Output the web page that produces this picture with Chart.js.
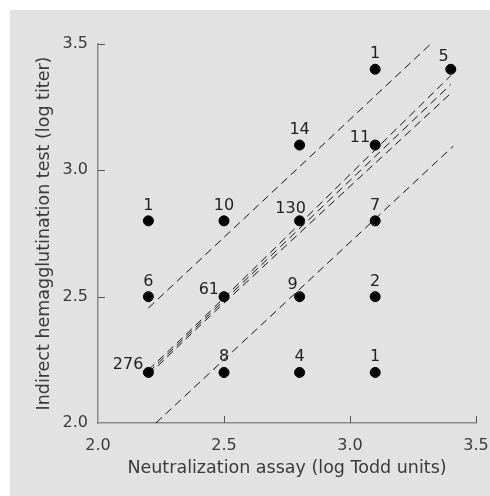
<!DOCTYPE html>
<html>
<head>
<meta charset="utf-8">
<script src="https://cdn.jsdelivr.net/npm/chart.js@4.4.1/dist/chart.umd.min.js"></script>
<style>
  html, body { margin: 0; padding: 0; background: #fff; }
  #wrap { width: 490px; height: 496px; position: relative; }
</style>
</head>
<body>
<div id="wrap"><canvas id="c" width="490" height="496"></canvas></div>
<script>
// observed points: x = neutralization, y = hemagglutination, count label
var pointX = [2.2, 2.5, 2.8, 3.1, 2.2, 2.5, 2.8, 3.1, 2.2, 2.5, 2.8, 3.1, 2.8, 3.1, 3.1, 3.4];
var pointY = [2.8, 2.8, 2.8, 2.8, 2.5, 2.5, 2.5, 2.5, 2.2, 2.2, 2.2, 2.2, 3.1, 3.1, 3.4, 3.4];
var counts = [1, 10, 130, 7, 6, 61, 9, 2, 276, 8, 4, 1, 14, 11, 1, 5];
// where the count sits relative to its dot
var labelSide = ['top', 'top', 'upLeft', 'top', 'top', 'left', 'topLeft', 'top',
                 'left', 'top', 'top', 'top', 'top', 'left', 'top', 'topLeft'];

// regression line and bands
var fitX = [2.2, 3.4];
var fitY = [2.2, 3.34];
var confX = [2.2, 2.45, 3.4];
var confUpperY = [2.21, 2.447, 3.375];
var confLowerY = [2.19, 2.428, 3.305];
var predUpperX = [2.2, 3.32];
var predUpperY = [2.455, 3.5];
var predLowerX = [2.23, 3.41];
var predLowerY = [2.0, 3.096];

var tickValues = [2.0, 2.5, 3.0, 3.5];

function pts(xs, ys) {
    return xs.map(function (x, i) { return { x: x, y: ys[i] }; });
}

var FONT = 'DejaVu Sans';
var TEXT = '#3a3a3a';

function dashed(data) {
    return {
        type: 'line',
        data: data,
        borderColor: '#111',
        borderWidth: 1,
        borderDash: [8, 5],
        pointRadius: 0,
        fill: false,
        tension: 0.4
    };
}

var bgPlugin = {
    id: 'bg',
    beforeDraw: function (chart) {
        var ctx = chart.ctx;
        ctx.save();
        ctx.fillStyle = '#fff';
        ctx.fillRect(0, 0, chart.width, chart.height);
        ctx.fillStyle = '#e2e2e2';
        ctx.fillRect(10, 10, chart.width - 10, chart.height - 10);
        ctx.restore();
    }
};

// inward tick marks
var tickPlugin = {
    id: 'inTicks',
    afterDraw: function (chart) {
        var ctx = chart.ctx;
        var xs = chart.scales.x, ys = chart.scales.y;
        var a = chart.chartArea;
        ctx.save();
        ctx.strokeStyle = '#555';
        ctx.lineWidth = 1;
        tickValues.forEach(function (v) {
            if (v === 2.0) return;
            var px = Math.round(xs.getPixelForValue(v)) + 0.5;
            ctx.beginPath();
            ctx.moveTo(px, a.bottom);
            ctx.lineTo(px, a.bottom - 7);
            ctx.stroke();
            var py = Math.round(ys.getPixelForValue(v)) + 0.5;
            ctx.beginPath();
            ctx.moveTo(a.left, py);
            ctx.lineTo(a.left + 7, py);
            ctx.stroke();
        });
        ctx.restore();
    }
};

var countPlugin = {
    id: 'counts',
    afterDatasetsDraw: function (chart) {
        var ctx = chart.ctx;
        var meta = chart.getDatasetMeta(0);
        ctx.save();
        ctx.font = '16px "' + FONT + '"';
        ctx.fillStyle = '#222';
        ctx.textBaseline = 'alphabetic';
        meta.data.forEach(function (el, i) {
            var side = labelSide[i];
            var tx = el.x, ty = el.y;
            if (side === 'top') { ctx.textAlign = 'center'; ty -= 11; }
            else if (side === 'left') { ctx.textAlign = 'right'; tx -= 5; ty -= 3; }
            else if (side === 'upLeft') { ctx.textAlign = 'center'; tx -= 9; ty -= 8; }
            else { ctx.textAlign = 'right'; tx -= 2; ty -= 8; }
            ctx.fillText(String(counts[i]), tx, ty);
        });
        ctx.restore();
    }
};

new Chart(document.getElementById('c'), {
    type: 'scatter',
    data: {
        datasets: [
            {
                data: pts(pointX, pointY),
                backgroundColor: '#000',
                borderColor: '#000',
                pointRadius: 5,
                pointHoverRadius: 5
            },
            dashed(pts(fitX, fitY)),
            dashed(pts(confX, confUpperY)),
            dashed(pts(confX, confLowerY)),
            dashed(pts(predUpperX, predUpperY)),
            dashed(pts(predLowerX, predLowerY))
        ]
    },
    options: {
        responsive: false,
        animation: false,
        events: [],
        layout: { padding: { top: 44, right: 14, left: 0, bottom: 0 } },
        plugins: { legend: { display: false }, tooltip: { enabled: false } },
        scales: {
            x: {
                type: 'linear',
                min: 2.0, max: 3.5,
                afterFit: function (s) { s.height = 73; s.paddingLeft = 0; s.paddingRight = 0; },
                afterBuildTicks: function (s) { s.ticks = tickValues.map(function (v) { return { value: v }; }); },
                ticks: {
                    padding: 13,
                    color: TEXT,
                    font: { family: FONT, size: 16 },
                    maxRotation: 0,
                    callback: function (v) { return Number(v).toFixed(1); }
                },
                grid: { display: false, drawTicks: false },
                border: { color: '#8a8a8a', width: 1.5 },
                title: {
                    display: true,
                    text: 'Neutralization assay (log Todd units)',
                    color: TEXT,
                    font: { family: FONT, size: 17.5 },
                    padding: { top: 0, bottom: 17 }
                }
            },
            y: {
                type: 'linear',
                min: 2.0, max: 3.5,
                afterFit: function (s) { s.width = 98; s.paddingTop = 0; s.paddingBottom = 0; },
                afterBuildTicks: function (s) { s.ticks = tickValues.map(function (v) { return { value: v }; }); },
                ticks: {
                    padding: 10,
                    color: TEXT,
                    font: { family: FONT, size: 16 },
                    callback: function (v) { return Number(v).toFixed(1); }
                },
                grid: { display: false, drawTicks: false },
                border: { color: '#8a8a8a', width: 1.5 },
                title: {
                    display: true,
                    text: 'Indirect hemagglutination test (log titer)',
                    color: TEXT,
                    font: { family: FONT, size: 17.5 },
                    padding: { top: 34, bottom: 0 }
                }
            }
        }
    },
    plugins: [bgPlugin, tickPlugin, countPlugin]
});
</script>
</body>
</html>
